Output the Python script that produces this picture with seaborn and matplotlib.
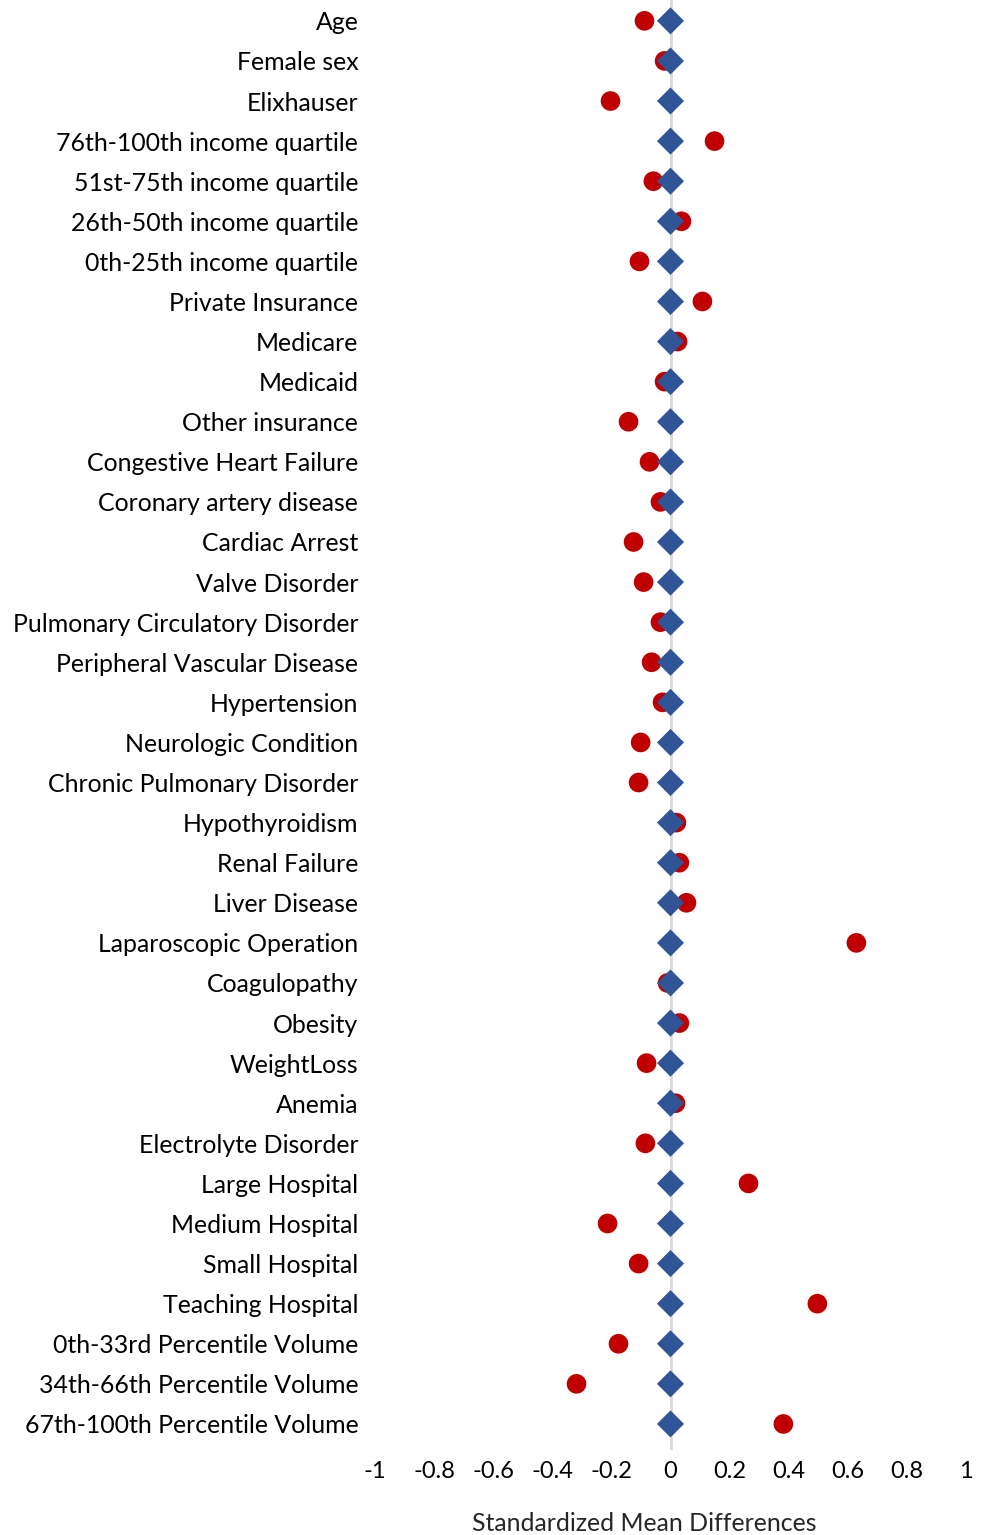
import matplotlib
matplotlib.use("Agg")
import matplotlib.pyplot as plt
import seaborn as sns
import pandas as pd

covariates = [
    "Age", "Female sex", "Elixhauser", "76th-100th income quartile",
    "51st-75th income quartile", "26th-50th income quartile",
    "0th-25th income quartile", "Private Insurance", "Medicare", "Medicaid",
    "Other insurance", "Congestive Heart Failure", "Coronary artery disease",
    "Cardiac Arrest", "Valve Disorder", "Pulmonary Circulatory Disorder",
    "Peripheral Vascular Disease", "Hypertension", "Neurologic Condition",
    "Chronic Pulmonary Disorder", "Hypothyroidism", "Renal Failure",
    "Liver Disease", "Laparoscopic Operation", "Coagulopathy", "Obesity",
    "WeightLoss", "Anemia", "Electrolyte Disorder", "Large Hospital",
    "Medium Hospital", "Small Hospital", "Teaching Hospital",
    "0th-33rd Percentile Volume", "34th-66th Percentile Volume",
    "67th-100th Percentile Volume",
]

smd_before = [
    -0.088, -0.020, -0.203, 0.149, -0.058, 0.037, -0.105, 0.108, 0.024,
    -0.020, -0.142, -0.071, -0.034, -0.125, -0.091, -0.034, -0.064, -0.027,
    -0.101, -0.108, 0.020, 0.030, 0.054, 0.629, -0.010, 0.030, -0.081,
    0.017, -0.085, 0.264, -0.213, -0.108, 0.497, -0.176, -0.318, 0.382,
]

smd_after = [0.0] * len(covariates)

x_ticks = [-1, -0.8, -0.6, -0.4, -0.2, 0, 0.2, 0.4, 0.6, 0.8, 1]
x_tick_labels = ["-1", "-0.8", "-0.6", "-0.4", "-0.2", "0", "0.2", "0.4", "0.6", "0.8", "1"]

df = pd.DataFrame({
    "covariate": covariates,
    "before": smd_before,
    "after": smd_after,
})

sns.set_theme(style="white")
plt.rcParams["font.family"] = ["Lato", "DejaVu Sans"]

fig = plt.figure(figsize=(9.86, 15.35), dpi=100)
ax = fig.add_axes([375 / 986, 1 - 1450 / 1535, (966 - 375) / 986, 1450 / 1535])

ax.axvline(0, color="#D9D9D9", lw=2, zorder=1)

sns.scatterplot(data=df, x="before", y="covariate", ax=ax, marker="o",
                s=200, color="#C00000", edgecolor="none", zorder=2, legend=False)
sns.scatterplot(data=df, x="after", y="covariate", ax=ax, marker="D",
                s=190, color="#2F5597", edgecolor="none", zorder=3, legend=False)

ax.set_xlim(-1, 1)
ax.set_ylim(35.65, -0.52)
ax.set_xticks(x_ticks)
ax.set_xticklabels(x_tick_labels)
ax.tick_params(axis="x", length=0, pad=8, labelsize=17, colors="#000000")
ax.tick_params(axis="y", length=0, pad=12, labelsize=17.9, colors="#000000")
ax.set_ylabel("")
ax.set_xlabel("Standardized Mean Differences", fontsize=17.9)
ax.xaxis.set_label_coords(0.455, -0.043)
for sp in ax.spines.values():
    sp.set_visible(False)
ax.grid(False)

fig.savefig("out.png", dpi=100, facecolor="white")
